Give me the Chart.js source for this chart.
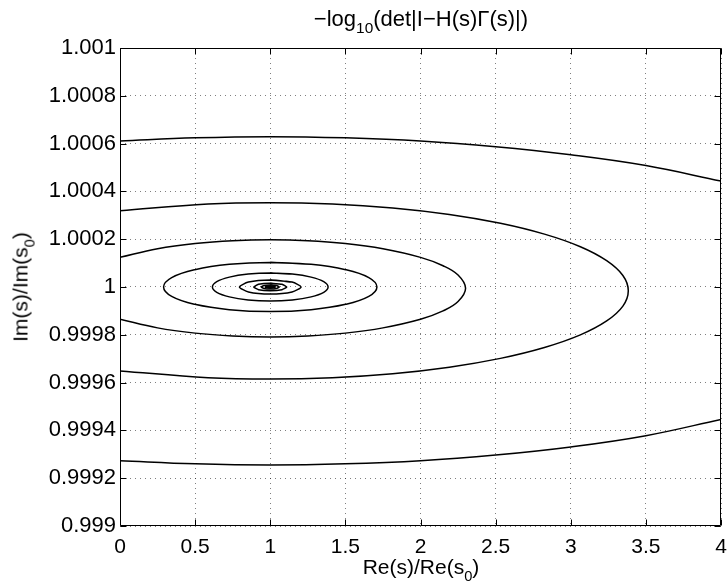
<!DOCTYPE html>
<html>
<head>
<meta charset="utf-8">
<script src="https://cdn.jsdelivr.net/npm/chart.js@4.4.1/dist/chart.umd.min.js"></script>
<style>
  html, body { margin: 0; padding: 0; background: #fff; }
  #wrap { position: relative; width: 727px; height: 588px; overflow: hidden; }
  #c { position: absolute; left: 0; top: 0; }
  .t { position: absolute; font-family: 'Liberation Sans', Arial, Helvetica, sans-serif; color: #000; white-space: nowrap; line-height: 1; }
  .t sub { font-size: 70%; vertical-align: -0.45em; line-height: 0; }
  #title { left: 421px; top: 8px; font-size: 22px; transform: translateX(-50%); }
  #xlabel { left: 421px; top: 556px; font-size: 21px; transform: translateX(-50%); }
  #ylabel { left: 20px; top: 287px; font-size: 21px; transform: translate(-50%, -50%) rotate(-90deg); }
</style>
</head>
<body>
<div id="wrap">
  <canvas id="c" width="727" height="588"></canvas>
  <div class="t" id="title">&minus;log<sub>10</sub>(det|I&minus;H(s)&Gamma;(s)|)</div>
  <div class="t" id="xlabel">Re(s)/Re(s<sub>0</sub>)</div>
  <div class="t" id="ylabel">Im(s)/Im(s<sub>0</sub>)</div>
</div>
<script>
// ---- axis ticks ----
const xTicks = [0, 0.5, 1, 1.5, 2, 2.5, 3, 3.5, 4];
const xTickLabels = ['0', '0.5', '1', '1.5', '2', '2.5', '3', '3.5', '4'];
const yTicks = [0.999, 0.9992, 0.9994, 0.9996, 0.9998, 1, 1.0002, 1.0004, 1.0006, 1.0008, 1.001];
const yTickLabels = ['0.999', '0.9992', '0.9994', '0.9996', '0.9998', '1', '1.0002', '1.0004', '1.0006', '1.0008', '1.001'];

// ---- contour lines ----
// A: outermost level, clipped on both sides (upper and lower branches)
const contourA_upperX = [0, 0.5, 1, 1.5, 2, 2.5, 3, 3.5, 4];
const contourA_upperY = [1.000611, 1.000624, 1.000629, 1.000624, 1.000611, 1.000587, 1.000553, 1.000508, 1.000443];
const contourA_lowerX = [0, 0.5, 1, 1.5, 2, 2.5, 3, 3.5, 4];
const contourA_lowerY = [0.999273, 0.99926, 0.999255, 0.99926, 0.999273, 0.999297, 0.999331, 0.999378, 0.999446];

// B: closes on the right near x = 3.38
const contourB_x = [0, 0.586, 1, 1.414, 1.815, 2.192, 2.532, 2.825, 3.064, 3.239, 3.347, 3.383,
                    3.347, 3.239, 3.064, 2.825, 2.532, 2.192, 1.815, 1.414, 1, 0.586, 0];
const contourB_y = [1.000319, 1.0003474, 1.000353, 1.0003474, 1.0003308, 1.0003036, 1.0002667, 1.0002212, 1.0001685, 1.0001102, 1.0000481, 0.999984,
                    0.9999199, 0.9998578, 0.9997995, 0.9997468, 0.9997013, 0.9996644, 0.9996372, 0.9996206, 0.999615, 0.9996206, 0.999649];

// C: closes on the right near x = 2.3
const contourC_x = [0, 0.25, 0.5, 0.75, 1, 1.25, 1.5, 1.75, 2, 2.15, 2.25, 2.3, 2.25, 2.15, 2, 1.75, 1.5, 1.25, 1, 0.75, 0.5, 0.25, 0];
const contourC_y = [1.000124, 1.00016, 1.000182, 1.000194, 1.000198, 1.000194, 1.000182, 1.00016, 1.000124, 1.000089, 1.00005, 0.9999945,
                    0.999939, 0.9999, 0.999865, 0.999829, 0.999807, 0.999795, 0.999791, 0.999795, 0.999807, 0.999829, 0.999865];

// D: closed, x 0.29 .. 1.71
const contourD_x = [1, 1.272, 1.502, 1.656, 1.71, 1.656, 1.502, 1.272, 1, 0.728, 0.498, 0.344, 0.29, 0.344, 0.498, 0.728, 1, 1.272];
const contourD_y = [1.0001025, 1.0000947, 1.0000725, 1.0000392, 1, 0.9999608, 0.9999275, 0.9999053, 0.9998975,
                    0.9999053, 0.9999275, 0.9999608, 1, 1.0000392, 1.0000725, 1.0000947, 1.0001025, 1.0000947];

// E: closed, x 0.615 .. 1.385
const contourE_x = [1, 1.147, 1.272, 1.356, 1.385, 1.356, 1.272, 1.147, 1, 0.853, 0.728, 0.644, 0.615, 0.644, 0.728, 0.853, 1, 1.147];
const contourE_y = [1.0000585, 1.000054, 1.0000414, 1.0000224, 1, 0.9999776, 0.9999586, 0.999946, 0.9999415,
                    0.999946, 0.9999586, 0.9999776, 1, 1.0000224, 1.0000414, 1.000054, 1.0000585, 1.000054];

// F .. K: small lens shaped levels around the centre
const contourF_x = [1, 1.145, 1.205, 1.145, 1, 0.855, 0.795, 0.855, 1, 1.145];
const contourF_y = [1.000029, 1.0000205, 1, 0.9999795, 0.999971, 0.9999795, 1, 1.0000205, 1.000029, 1.0000205];
const contourG_x = [1, 1.078, 1.11, 1.078, 1, 0.922, 0.89, 0.922, 1, 1.078];
const contourG_y = [1.000016, 1.0000113, 1, 0.9999887, 0.999984, 0.9999887, 1, 1.0000113, 1.000016, 1.0000113];
const contourH_x = [1, 1.042, 1.06, 1.042, 1, 0.958, 0.94, 0.958, 1, 1.042];
const contourH_y = [1.0000088, 1.0000062, 1, 0.9999938, 0.9999912, 0.9999938, 1, 1.0000062, 1.0000088, 1.0000062];
const contourI_x = [1, 1.023, 1.033, 1.023, 1, 0.977, 0.967, 0.977, 1, 1.023];
const contourI_y = [1.0000048, 1.0000034, 1, 0.9999966, 0.9999952, 0.9999966, 1, 1.0000034, 1.0000048, 1.0000034];
const contourJ_x = [1, 1.018, 1, 0.982, 1];
const contourJ_y = [1.0000026, 1, 0.9999974, 1, 1.0000026];
const contourK_x = [1, 1.01, 1, 0.99, 1];
const contourK_y = [1.0000014, 1, 0.9999986, 1, 1.0000014];

function pts(xs, ys) { return xs.map((x, i) => ({ x: x, y: ys[i] })); }
function line(xs, ys, tension) {
  return { data: pts(xs, ys), showLine: true, tension: tension, borderColor: '#000', borderWidth: 1.5,
           pointRadius: 0, fill: false };
}

const datasets = [
  line(contourA_upperX, contourA_upperY, 0.4),
  line(contourA_lowerX, contourA_lowerY, 0.4),
  line(contourB_x, contourB_y, 0.4),
  line(contourC_x, contourC_y, 0.4),
  line(contourD_x, contourD_y, 0.4),
  line(contourE_x, contourE_y, 0.35),
  line(contourF_x, contourF_y, 0.25),
  line(contourG_x, contourG_y, 0.2),
  line(contourH_x, contourH_y, 0.15),
  line(contourI_x, contourI_y, 0.1),
  line(contourJ_x, contourJ_y, 0),
  line(contourK_x, contourK_y, 0)
];

const XFONT = { family: "'Liberation Sans', Arial, Helvetica, sans-serif", size: 21 };
const YFONT = { family: "'Liberation Sans', Arial, Helvetica, sans-serif", size: 22 };

const boxPlugin = {
  id: 'matlabBox',
  afterDraw(chart) {
    const ctx = chart.ctx;
    const xs = chart.scales.x, ys = chart.scales.y;
    const L = Math.round(xs.getPixelForValue(xs.min)) + 0.5;
    const R = Math.round(xs.getPixelForValue(xs.max)) - 0.5;
    const T = Math.round(ys.getPixelForValue(ys.max)) + 0.5;
    const B = Math.round(ys.getPixelForValue(ys.min)) - 0.5;
    ctx.save();
    ctx.strokeStyle = '#000';
    ctx.lineWidth = 1;
    ctx.setLineDash([]);
    ctx.beginPath();
    ctx.rect(L, T, R - L, B - T);
    const tl = 6;
    xTicks.forEach(v => {
      const p = Math.round(xs.getPixelForValue(v)) + 0.5;
      ctx.moveTo(p, B); ctx.lineTo(p, B - tl);
      ctx.moveTo(p, T); ctx.lineTo(p, T + tl);
    });
    yTicks.forEach(v => {
      const p = Math.round(ys.getPixelForValue(v)) + 0.5;
      ctx.moveTo(L, p); ctx.lineTo(L + tl, p);
      ctx.moveTo(R, p); ctx.lineTo(R - tl, p);
    });
    ctx.stroke();
    ctx.restore();
  }
};

new Chart(document.getElementById('c'), {
  type: 'scatter',
  data: { datasets: datasets },
  options: {
    responsive: false,
    animation: false,
    devicePixelRatio: 1,
    layout: { padding: { top: 48, right: 6, left: 0, bottom: 0 } },
    plugins: { legend: { display: false }, tooltip: { enabled: false }, title: { display: false } },
    scales: {
      x: {
        type: 'linear', min: 0, max: 4,
        afterBuildTicks: s => { s.ticks = xTicks.map(v => ({ value: v })); },
        afterFit: s => { s.height = 62; s.paddingLeft = 0; s.paddingRight = 0; },
        ticks: { callback: (v, i) => xTickLabels[i], color: '#000', font: XFONT, padding: 9, maxRotation: 0, autoSkip: false },
        grid: { color: 'rgba(0,0,0,0.5)', lineWidth: 1, drawTicks: false },
        border: { display: false, dash: [1, 4] }
      },
      y: {
        type: 'linear', min: 0.999, max: 1.001,
        afterBuildTicks: s => { s.ticks = yTicks.map(v => ({ value: v })); },
        afterFit: s => { s.width = 120; s.paddingTop = 0; s.paddingBottom = 0; },
        ticks: { callback: (v, i) => yTickLabels[i], color: '#000', font: YFONT, padding: 4, autoSkip: false },
        grid: { color: 'rgba(0,0,0,0.5)', lineWidth: 1, drawTicks: false },
        border: { display: false, dash: [1, 4] }
      }
    }
  },
  plugins: [boxPlugin]
});
</script>
</body>
</html>
